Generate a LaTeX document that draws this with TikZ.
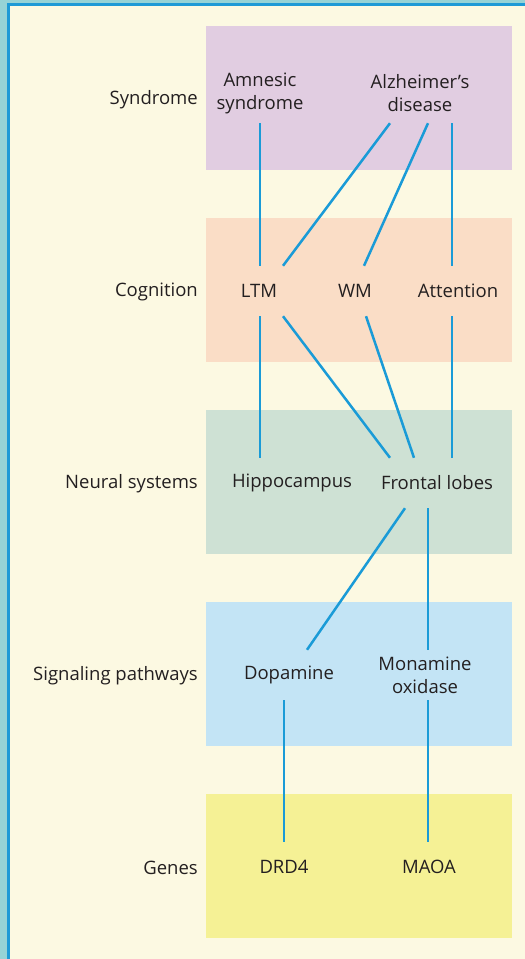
\documentclass[tikz,border=0pt]{standalone}
\usepackage{fontspec}
\setmainfont{Open Sans}
\definecolor{cream}{HTML}{FCF9E2}
\definecolor{frameteal}{HTML}{96D3D6}
\definecolor{frameblue}{HTML}{1E9AD6}
\definecolor{bandsyn}{HTML}{E1CDE1}
\definecolor{bandcog}{HTML}{FADDC6}
\definecolor{bandneu}{HTML}{CEE1D4}
\definecolor{bandsig}{HTML}{C3E4F5}
\definecolor{bandgen}{HTML}{F5F195}
\definecolor{linkblue}{HTML}{1A9BD7}
\definecolor{ink}{HTML}{231F20}
\begin{document}
\begin{tikzpicture}[x=1pt,y=-1pt,
  every node/.style={text=ink,font=\fontsize{18.5}{23}\selectfont},
  level/.style={anchor=east,inner sep=0pt},
  item/.style={align=center,inner sep=0pt,minimum height=50pt},
  twoline/.style={item,minimum height=60pt},
  link/.style={draw=linkblue,line width=2.5pt}]
% background and frame
\useasboundingbox (0,0) rectangle (525,959);
\fill[cream] (0,0) rectangle (525,959);
\fill[frameteal] (0,0) rectangle (525,3);
\fill[frameteal] (0,0) rectangle (7,959);
\fill[frameblue] (7,3) rectangle (525,5.5);
\fill[frameblue] (7,3) rectangle (9.5,959);
% level bands
\fill[bandsyn] (206,26)  rectangle (512,170);
\fill[bandcog] (206,218) rectangle (512,362);
\fill[bandneu] (206,410) rectangle (512,554);
\fill[bandsig] (206,602) rectangle (512,746);
\fill[bandgen] (206,794) rectangle (512,938);
% level names
\node[level] (lsyn) at (198,100) {Syndrome};
\node[level] (lcog) at (198,292) {Cognition};
\node[level] (lneu) at (198,484) {Neural systems};
\node[level] (lsig) at (198,676) {Signaling pathways};
\node[level] (lgen) at (198,868) {Genes};
% items
\node[twoline] (amn) at (260,93)  {Amnesic\\syndrome};
\node[twoline] (alz) at (420,93)  {Alzheimer’s\\disease};
\node[item] (ltm) at (259,291) {LTM};
\node[item] (wm)  at (355,291) {WM};
\node[item] (att) at (458,291) {Attention};
\node[item] (hip) at (292,483) {Hippocampus};
\node[item] (fro) at (437,483) {Frontal lobes};
\node[item] (dop) at (289,675) {Dopamine};
\node[item] (mao) at (425,675) {Monamine\\oxidase};
\node[item] (drd) at (284,867) {DRD4};
\node[item] (maoa) at (429,867) {MAOA};
% links
\draw[link] (amn.south) -- ([xshift=1pt]ltm.north);
\draw[link] ([xshift=-30pt]alz.south) -- ([xshift=24pt]ltm.north);
\draw[link] ([xshift=8pt]alz.south) -- ([xshift=9pt]wm.north);
\draw[link] ([xshift=32pt]alz.south) -- ([xshift=-6pt]att.north);
\draw[link] ([xshift=1pt]ltm.south) -- ([xshift=-32pt]hip.north);
\draw[link] ([xshift=24pt]ltm.south) -- ([xshift=-47pt]fro.north);
\draw[link] ([xshift=11pt]wm.south) -- ([xshift=-23pt]fro.north);
\draw[link] ([xshift=-6pt]att.south) -- ([xshift=15pt]fro.north);
\draw[link] ([xshift=-32pt]fro.south) -- ([xshift=18pt]dop.north);
\draw[link] ([xshift=-9pt]fro.south) -- ([xshift=3pt]mao.north);
\draw[link] ([xshift=-5pt]dop.south) -- (drd.north);
\draw[link] ([xshift=3pt]mao.south) -- ([xshift=-1pt]maoa.north);
\end{tikzpicture}
\end{document}
